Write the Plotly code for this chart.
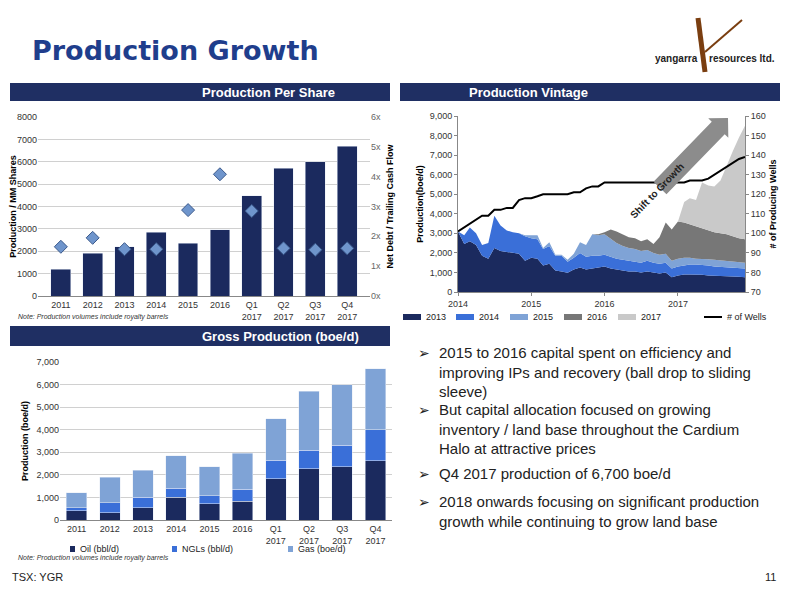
import plotly.graph_objects as go
import math

# ---------- data ----------
cats = ["2011", "2012", "2013", "2014", "2015", "2016", "Q1<br>2017", "Q2<br>2017", "Q3<br>2017", "Q4<br>2017"]
prod_per_share = [1200, 1900, 2200, 2850, 2350, 2950, 4480, 5700, 6000, 6700]
debt_cf = [1.65, 1.95, 1.57, 1.57, 2.88, 4.08, 2.85, 1.6, 1.55, 1.6]

oil = [400, 330, 550, 1000, 730, 830, 1830, 2270, 2370, 2620]
ngl = [150, 430, 450, 400, 340, 530, 820, 830, 950, 1380]
gas = [650, 1140, 1200, 1450, 1280, 1590, 1830, 2600, 2680, 2700]

months = [f"{y}-{m:02d}-01" for y in range(2014, 2018) for m in range(1, 13)]
# cumulative tops of each vintage layer (boe/d), None = vintage not yet producing
top_2013 = [3100, 2450, 2600, 2400, 1850, 1700, 2250, 2100, 2050, 2000, 1950, 1600,
            1750, 1700, 1350, 1450, 1100, 1050, 980, 1150, 1250, 1150, 1200, 1250,
            1300, 1200, 1150, 1100, 1050, 1050, 1000, 1050, 1000, 950, 1000, 750,
            850, 900, 900, 900, 880, 850, 850, 820, 800, 800, 780, 750]
top_2014 = [3100, 2900, 3300, 3000, 2400, 2500, 3900, 3400, 3150, 3050, 3000, 2850,
            2750, 2700, 2200, 2350, 1850, 1850, 1550, 1750, 2000, 1800, 1850, 1850,
            1900, 1800, 1700, 1650, 1600, 1550, 1500, 1600, 1500, 1450, 1500, 1200,
            1300, 1350, 1400, 1400, 1380, 1350, 1300, 1280, 1250, 1230, 1200, 1200]
top_2015 = [None] * 11 + [2900,
            2900, 2900, 2250, 2550, 1900, 1900, 1650, 1950, 2550, 2400, 2950, 2900,
            2950, 2700, 2500, 2350, 2250, 2200, 2100, 2150, 2000, 1900, 1950, 1600,
            1700, 1750, 1750, 1700, 1700, 1680, 1650, 1620, 1600, 1550, 1520, 1500]
top_2016 = [None] * 23 + [2950,
            3050, 3200, 3100, 2950, 2800, 2750, 2600, 2700, 2450, 2800, 3550, 3200,
            3600, 3550, 3450, 3350, 3250, 3150, 3050, 3000, 2950, 2850, 2750, 2700]
top_2017 = [None] * 36 + [3600, 4600, 4800, 4700, 5600, 5450, 5400, 5700, 6500, 7200, 7900, 8500]
wells = [101, 103, 105, 107, 109, 109, 112, 112, 113, 113, 117, 118,
         118, 119, 120, 120, 120, 120, 120, 121, 121, 123, 124, 124,
         126, 126, 126, 126, 126, 126, 126, 126, 126, 126, 126, 126,
         126, 126, 127, 127, 127, 128, 130, 132, 134, 136, 138, 139]

bullets = [
    "2015 to 2016 capital spent on efficiency and<br>improving IPs and recovery (ball drop to sliding<br>sleeve)",
    "But capital allocation focused on growing<br>inventory / land base throughout the Cardium<br>Halo at attractive prices",
    "Q4 2017 production of 6,700 boe/d",
    "2018 onwards focusing on significant production<br>growth while continuing to grow land base",
]

NAVY = "#1B2A5E"
BLUE = "#3A6FD8"
LBLUE = "#7FA3D6"
FONT = "Liberation Sans"

# page offset compensation (page body margin)
OFF = 8
def px(x): return (x - OFF) / 800
def py(y): return 1 - (y - OFF) / 600
def dx(a, b): return [px(a), px(b)]
def dy(top, bot): return [py(bot), py(top)]

fig = go.Figure()

# ---------- chart 1 ----------
fig.add_bar(x=cats, y=prod_per_share, marker_color=NAVY, width=0.62, xaxis="x", yaxis="y", showlegend=False)
fig.add_scatter(x=cats, y=debt_cf, mode="markers", xaxis="x", yaxis="y2", showlegend=False,
                marker=dict(symbol="diamond", size=10, color="#6F95CC", line=dict(color="#3C5A8C", width=1)))

# ---------- chart 2 ----------
def fill_prev(vals, prev):
    return [p if v is None else v for v, p in zip(vals, prev)]

t15 = fill_prev(top_2015, top_2014)
t16 = fill_prev(top_2016, t15)
t17 = fill_prev(top_2017, t16)
C16, C17 = "#777777", "#C9C9C9"
layers = [("2013", top_2013, NAVY, "tozeroy"), ("2014", top_2014, BLUE, "tonexty"),
          ("2015", t15, LBLUE, "tonexty"), ("2016", t16, C16, "tonexty"),
          ("2017", t17, C17, "tonexty")]
for name, ys, col, fm in layers:
    fig.add_scatter(x=months, y=ys, name=name, mode="lines", line=dict(width=0, color=col),
                    fill=fm, fillcolor=col, xaxis="x3", yaxis="y3", showlegend=False)
fig.add_scatter(x=months, y=wells, name="# of Wells", mode="lines", line=dict(color="black", width=2),
                xaxis="x3", yaxis="y4", showlegend=False)

# ---------- chart 3 ----------
for name, ys, col in [("Oil (bbl/d)", oil, NAVY), ("NGLs (bbl/d)", ngl, BLUE), ("Gas (boe/d)", gas, LBLUE)]:
    fig.add_bar(x=cats, y=ys, name=name, marker_color=col, width=0.62, xaxis="x5", yaxis="y5", showlegend=False)

tickf = dict(family=FONT, size=9, color="#333")
titf = dict(family=FONT, size=9, color="black")
grid = "#D0D0D0"
axc = dict(automargin=False)
tk = dict(showline=True, linecolor="#888", ticks="outside", ticklen=3, tickcolor="#888")

fig.update_layout(
    width=800, height=600, margin=dict(l=0, r=0, t=0, b=0, autoexpand=False),
    paper_bgcolor="white", plot_bgcolor="rgba(0,0,0,0)", barmode="stack", showlegend=False,
    font=dict(family=FONT),
    xaxis=dict(domain=dx(38, 370), anchor="y", tickfont=tickf, showline=True, linecolor="#888", **axc),
    yaxis=dict(domain=dy(117, 296), anchor="x", range=[0, 8000], dtick=1000, tickfont=tickf, gridcolor=grid,
               title=dict(text="<b>Production / MM Shares</b>", font=titf, standoff=6), **axc),
    yaxis2=dict(overlaying="y", side="right", anchor="x", range=[0, 6], dtick=1, ticksuffix="x",
                tickfont=dict(family=FONT, size=9, color="#666"), showgrid=False,
                title=dict(text="<b>Net Debt / Trailing Cash Flow</b>", font=titf, standoff=6), **axc),
    xaxis3=dict(domain=dx(458, 745), anchor="y3", type="date", range=["2014-01-01", "2017-12-01"],
                tickvals=["2014-01-01", "2015-01-01", "2016-01-01", "2017-01-01"], ticktext=["2014", "2015", "2016", "2017"],
                tickfont=tickf, **tk, **axc),
    yaxis3=dict(domain=dy(116, 292), anchor="x3", range=[0, 9000], dtick=1000, tickformat=",", tickfont=tickf,
                showgrid=False, **tk, title=dict(text="<b>Production(boe/d)</b>", font=titf, standoff=4), **axc),
    yaxis4=dict(overlaying="y3", side="right", anchor="x3", range=[70, 160], dtick=10, tickfont=tickf, showgrid=False,
                **tk, title=dict(text="<b># of Producing Wells</b>", font=titf, standoff=4), **axc),
    xaxis5=dict(domain=dx(60, 392), anchor="y5", tickfont=tickf, showline=True, linecolor="#888", **axc),
    yaxis5=dict(domain=dy(362, 520), anchor="x5", range=[0, 7000], dtick=1000, tickformat=",", tickfont=tickf,
                gridcolor=grid, title=dict(text="<b>Production (boe/d)</b>", font=titf, standoff=6), **axc),
)

shapes = []
ann = []

for (x0, x1, y0, y1, t) in [(10, 390, 83, 101, "Production Per Share"), (400, 780, 83, 101, "Production Vintage"),
                            (10, 390, 326, 346, "Gross Production (boe/d)")]:
    shapes.append(dict(type="rect", xref="paper", yref="paper", x0=px(x0), x1=px(x1), y0=py(y1), y1=py(y0),
                       fillcolor="#1F2F63", line=dict(width=0), layer="above"))
    ann.append(dict(xref="paper", yref="paper", x=px((x0 + x1) / 2), y=py((y0 + y1) / 2), yanchor="middle",
                    text=f"<b>{t}</b>", showarrow=False, font=dict(family=FONT, size=13, color="white")))

ann.append(dict(xref="paper", yref="paper", x=px(30), y=py(50), xanchor="left", yanchor="middle",
                text="<b>Production Growth</b>", showarrow=False, font=dict(family="DejaVu Sans", size=27, color="#1F3E8C")))
# logo
shapes.append(dict(type="line", xref="paper", yref="paper", x0=px(698), y0=py(18), x1=px(705), y1=py(72),
                   line=dict(color="#7A3E10", width=5)))
shapes.append(dict(type="line", xref="paper", yref="paper", x0=px(705), y0=py(52), x1=px(742), y1=py(20),
                   line=dict(color="#7A3E10", width=2)))
ann.append(dict(xref="paper", yref="paper", x=px(700), y=py(51), xanchor="right", text="<b>yangarra</b>",
                showarrow=False, font=dict(family=FONT, size=10, color="#222")))
ann.append(dict(xref="paper", yref="paper", x=px(707), y=py(51), xanchor="left", text="<b>resources ltd.</b>",
                showarrow=False, font=dict(family=FONT, size=10, color="#222")))

# shift to growth arrow
ax0, ay0, ax1, ay1 = 660, 188, 728, 118
ang = math.atan2(ay1 - ay0, ax1 - ax0)
nx, ny = -math.sin(ang), math.cos(ang)
w, hw, hl = 9, 14, 14
bx, by = ax1 - hl * math.cos(ang), ay1 - hl * math.sin(ang)
pts = [(ax0 + nx * w, ay0 + ny * w), (bx + nx * w, by + ny * w), (bx + nx * hw, by + ny * hw), (ax1, ay1),
       (bx - nx * hw, by - ny * hw), (bx - nx * w, by - ny * w), (ax0 - nx * w, ay0 - ny * w)]
path = "M " + " L ".join(f"{px(x):.4f},{py(y):.4f}" for x, y in pts) + " Z"
shapes.append(dict(type="path", xref="paper", yref="paper", path=path, fillcolor="#8C8C8C", line=dict(width=0)))
ann.append(dict(xref="paper", yref="paper", x=px(689), y=py(158), text="<b>Shift to Growth</b>", showarrow=False,
                textangle=-46, font=dict(family=FONT, size=10, color="#222")))

# custom legends
def legend_item(x, y, col, label, line=False, sw=18):
    if line:
        shapes.append(dict(type="line", xref="paper", yref="paper", x0=px(x), x1=px(x + sw), y0=py(y), y1=py(y),
                           line=dict(color=col, width=2)))
    else:
        shapes.append(dict(type="rect", xref="paper", yref="paper", x0=px(x), x1=px(x + sw), y0=py(y + 3), y1=py(y - 3),
                           fillcolor=col, line=dict(width=0)))
    ann.append(dict(xref="paper", yref="paper", x=px(x + sw + 3), y=py(y), xanchor="left", yanchor="middle",
                    text=label, showarrow=False, font=dict(family=FONT, size=9, color="#222")))

for (x, col, lab) in [(403, NAVY, "2013"), (456, BLUE, "2014"), (510, LBLUE, "2015"), (564, C16, "2016"), (618, C17, "2017")]:
    legend_item(x, 317, col, lab)
legend_item(704, 317, "black", "# of Wells", line=True)
for (x, col, lab) in [(70, NAVY, "Oil (bbl/d)"), (172, BLUE, "NGLs (bbl/d)"), (288, LBLUE, "Gas (boe/d)")]:
    legend_item(x, 549, col, lab, sw=5)

# notes
ann.append(dict(xref="paper", yref="paper", x=px(16), y=py(317), xanchor="left", text="<i>Note: Production volumes include royalty barrels</i>",
                showarrow=False, font=dict(family=FONT, size=7, color="#333")))
ann.append(dict(xref="paper", yref="paper", x=px(16), y=py(564), xanchor="left", text="<i>Note: Production volumes include royalty barrels</i>",
                showarrow=False, font=dict(family=FONT, size=7, color="#333")))
# bullets
by_list = [342, 399, 463, 491]
for b, yy in zip(bullets, by_list):
    ann.append(dict(xref="paper", yref="paper", x=px(416), y=py(yy + 1), xanchor="left", yanchor="top", align="left",
                    text="➢", showarrow=False, font=dict(family="DejaVu Sans", size=14, color="#222")))
    ann.append(dict(xref="paper", yref="paper", x=px(437), y=py(yy), xanchor="left", yanchor="top", align="left",
                    text=b, showarrow=False, font=dict(family=FONT, size=15, color="#222")))
# footer
ann.append(dict(xref="paper", yref="paper", x=px(10), y=py(585), xanchor="left", text="TSX: YGR", showarrow=False,
                font=dict(family=FONT, size=11, color="#222")))
ann.append(dict(xref="paper", yref="paper", x=px(778), y=py(585), xanchor="right", text="11", showarrow=False,
                font=dict(family=FONT, size=11, color="#222")))

fig.update_layout(shapes=shapes, annotations=ann)
fig.write_html("out.html")
